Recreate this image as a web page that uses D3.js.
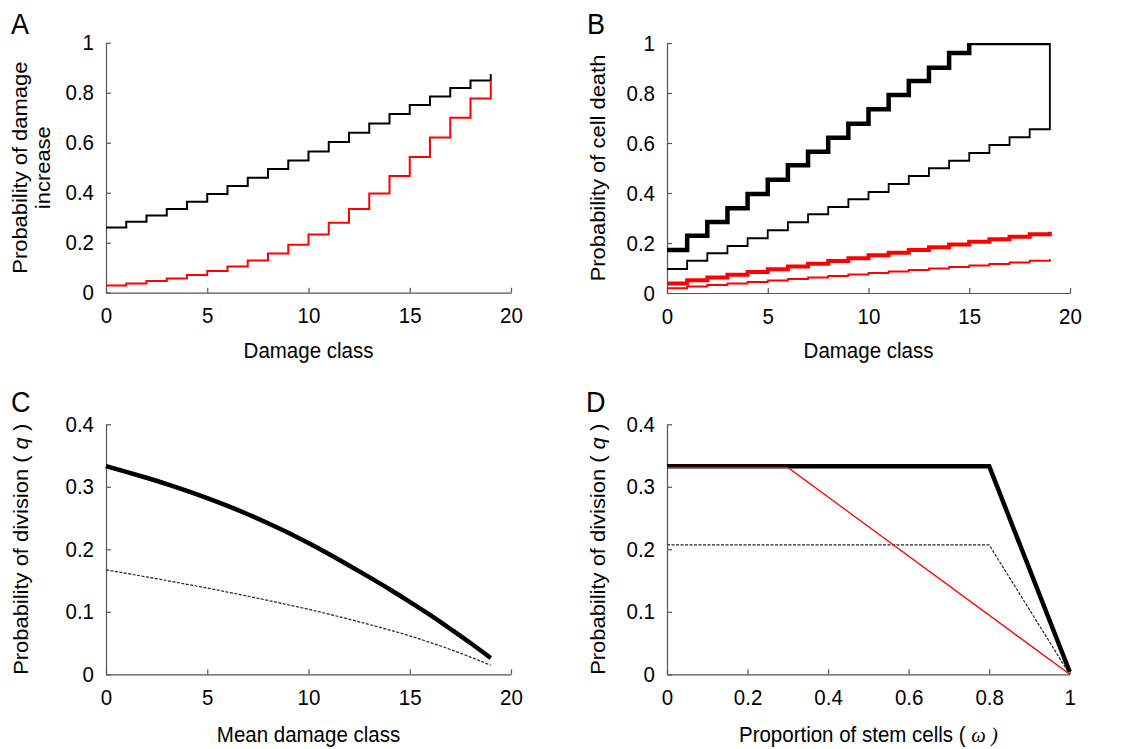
<!DOCTYPE html>
<html>
<head>
<meta charset="utf-8">
<script src="https://cdn.jsdelivr.net/npm/d3@7"></script>
<style>
  body { margin: 0; background: #fff; }
  text { font-family: "Liberation Sans", Arial, sans-serif; }
</style>
</head>
<body>
<svg id="chart" width="1122" height="749"></svg>
<script>
// ---- data ----
const damageClass = d3.range(0, 20); // classes 0..19

// A: probability of damage increase
const aBlack = [0.261, 0.284, 0.309, 0.335, 0.364, 0.395, 0.427, 0.46, 0.495, 0.529,
                0.565, 0.603, 0.64, 0.677, 0.715, 0.751, 0.785, 0.819, 0.849, 0.875];
const aRed   = [0.029, 0.037, 0.047, 0.057, 0.071, 0.087, 0.105, 0.129, 0.157, 0.192,
                0.233, 0.28, 0.335, 0.397, 0.467, 0.543, 0.621, 0.7, 0.777, 0.844];

// B: probability of cell death
const bBlackThick = [0.172, 0.229, 0.284, 0.339, 0.396, 0.453, 0.511, 0.565, 0.621, 0.677,
                     0.735, 0.792, 0.848, 0.901, 0.96, 1, 1, 1, 1, 1];
const bBlackThin  = [0.096, 0.129, 0.159, 0.188, 0.219, 0.251, 0.283, 0.315, 0.344, 0.375,
                     0.404, 0.436, 0.468, 0.499, 0.529, 0.56, 0.592, 0.623, 0.655, 1];
const bRedThick   = [0.038, 0.051, 0.062, 0.073, 0.084, 0.095, 0.106, 0.117, 0.128, 0.139,
                     0.151, 0.161, 0.172, 0.183, 0.194, 0.205, 0.215, 0.225, 0.235, 0.245];
const bRedThin    = [0.019, 0.026, 0.032, 0.038, 0.044, 0.05, 0.056, 0.062, 0.068, 0.074,
                     0.08, 0.086, 0.092, 0.098, 0.104, 0.11, 0.116, 0.122, 0.129, 0.136];

// C: probability of division vs mean damage class
const cThick  = [0.333, 0.324, 0.3145, 0.3044, 0.2936, 0.282, 0.2695, 0.2561, 0.2418, 0.2266,
                 0.21, 0.1925, 0.1742, 0.1554, 0.1361, 0.116, 0.095, 0.0728, 0.05, 0.026];
const cDotted = [0.167, 0.1615, 0.1558, 0.15, 0.144, 0.138, 0.1316, 0.125, 0.1182, 0.1112,
                 0.104, 0.0963, 0.0882, 0.0797, 0.0708, 0.0615, 0.051, 0.0397, 0.0275, 0.0145];

// D: probability of division vs proportion of stem cells
const dOmegaThick = [0, 0.8, 1];
const dThick      = [0.333, 0.333, 0.004];
const dOmegaRed   = [0, 0.3, 1];
const dRed        = [0.331, 0.331, 0];
const dOmegaDot   = [0, 0.8, 1];
const dDotted     = [0.207, 0.207, 0];

// ticks
const ticksDamage = [0, 5, 10, 15, 20];
const ticksProb   = [0, 0.2, 0.4, 0.6, 0.8, 1];
const ticksQ      = [0, 0.1, 0.2, 0.3, 0.4];
const ticksOmega  = [0, 0.2, 0.4, 0.6, 0.8, 1];

const svg = d3.select("#chart");
const axisColor = "#555";
const fs = 20.5;
const sy = 1.07; // text in the figure is slightly taller than wide

function makePanel(p) {
  const x = d3.scaleLinear().domain(p.xDom).range([p.left, p.right]);
  const y = d3.scaleLinear().domain(p.yDom).range([p.bottom, p.top]);
  const g = svg.append("g");

  const xa = g.append("g")
    .attr("transform", "translate(0," + p.bottom + ")")
    .call(d3.axisBottom(x).tickValues(p.xTicks).tickFormat(d => String(d))
      .tickSizeInner(-5).tickSizeOuter(0).tickPadding(14));
  const ya = g.append("g")
    .attr("transform", "translate(" + p.left + ",0)")
    .call(d3.axisLeft(y).tickValues(p.yTicks).tickFormat(d => String(d))
      .tickSizeInner(-5).tickSizeOuter(0).tickPadding(12));
  [xa, ya].forEach(a => {
    a.select(".domain").attr("stroke", axisColor).attr("stroke-width", 1.2);
    a.selectAll(".tick line").attr("stroke", axisColor).attr("stroke-width", 1.2);
    a.selectAll(".tick text").attr("fill", "#000")
      .attr("transform", "scale(1," + sy + ")")
      .style("font-size", fs + "px")
      .style("font-family", '"Liberation Sans", Arial, sans-serif');
  });

  // panel letter
  g.append("text")
    .attr("transform", "translate(" + p.letterX + "," + p.letterY + ") scale(1," + sy + ")")
    .style("font-size", "27px").text(p.letter);

  // x title
  const xt = g.append("text")
    .attr("transform", "translate(" + (p.left + p.right) / 2 + "," + p.xTitleY + ") scale(1," + sy + ")")
    .attr("text-anchor", "middle").style("font-size", fs + "px");
  p.xTitle(xt);

  // y title (one or more lines)
  p.yTitle.forEach(line => {
    const t = g.append("text")
      .attr("transform", "translate(" + line.x + "," + (p.top + p.bottom) / 2 + ") scale(1," + sy + ") rotate(-90)")
      .attr("text-anchor", "middle").style("font-size", fs + "px");
    line.build(t);
  });

  return { g, x, y };
}

function plainText(s) { return t => t.text(s); }

function addLine(panel, xs, ys, opt) {
  const line = d3.line()
    .x(d => panel.x(d[0]))
    .y(d => panel.y(d[1]))
    .curve(opt.curve || d3.curveLinear);
  const path = panel.g.append("path")
    .datum(xs.map((v, i) => [v, ys[i]]))
    .attr("d", line)
    .attr("fill", "none")
    .attr("stroke", opt.color)
    .attr("stroke-width", opt.width)
    .attr("stroke-linejoin", "miter")
    .attr("stroke-linecap", "butt");
  if (opt.dash) path.attr("stroke-dasharray", opt.dash);
  if (opt.clip) path.attr("clip-path", "url(#" + opt.clip + ")");
  return path;
}

// ---- Panel A ----
const pA = makePanel({
  left: 106, right: 511, top: 42.7, bottom: 292.7,
  xDom: [0, 20], yDom: [0, 1], xTicks: ticksDamage, yTicks: ticksProb,
  letter: "A", letterX: 11, letterY: 33.5,
  xTitleY: 358, xTitle: plainText("Damage class"),
  yTitle: [{ x: 27, build: plainText("Probability of damage") },
           { x: 50, build: plainText("increase") }]
});
addLine(pA, damageClass, aBlack, { color: "#000", width: 2, curve: d3.curveStepAfter });
addLine(pA, damageClass, aRed, { color: "#ff0000", width: 2, curve: d3.curveStepAfter });

// ---- Panel B ----
const pB = makePanel({
  left: 667, right: 1070, top: 43, bottom: 293,
  xDom: [0, 20], yDom: [0, 1], xTicks: ticksDamage, yTicks: ticksProb,
  letter: "B", letterX: 587, letterY: 33.5,
  xTitleY: 358, xTitle: plainText("Damage class"),
  yTitle: [{ x: 605, build: plainText("Probability of cell death") }]
});
svg.append("clipPath").attr("id", "clipB").append("rect")
  .attr("x", 667).attr("y", 43).attr("width", 420).attr("height", 260);
addLine(pB, damageClass, bBlackThick, { color: "#000", width: 4.5, curve: d3.curveStepAfter, clip: "clipB" });
addLine(pB, damageClass, bBlackThin, { color: "#000", width: 1.8, curve: d3.curveStepAfter });
addLine(pB, damageClass, bRedThick, { color: "#ff0000", width: 4, curve: d3.curveStepAfter });
addLine(pB, damageClass, bRedThin, { color: "#ff0000", width: 1.8, curve: d3.curveStepAfter });

// ---- Panel C ----
const qTitle = t => {
  t.append("tspan").text("Probability of division ( ");
  t.append("tspan").style("font-style", "italic").text("q");
  t.append("tspan").text(" )");
};
const pC = makePanel({
  left: 106, right: 511, top: 424.3, bottom: 674.3,
  xDom: [0, 20], yDom: [0, 0.4], xTicks: ticksDamage, yTicks: ticksQ,
  letter: "C", letterX: 11, letterY: 412,
  xTitleY: 742, xTitle: plainText("Mean damage class"),
  yTitle: [{ x: 27.5, build: qTitle }]
});
addLine(pC, damageClass, cThick, { color: "#000", width: 4.5, curve: d3.curveMonotoneX });
addLine(pC, damageClass, cDotted, { color: "#222", width: 1.2, curve: d3.curveMonotoneX, dash: "3,1.5" });

// ---- Panel D ----
const pD = makePanel({
  left: 667, right: 1069.7, top: 424.3, bottom: 674.3,
  xDom: [0, 1], yDom: [0, 0.4], xTicks: ticksOmega, yTicks: ticksQ,
  letter: "D", letterX: 586, letterY: 412,
  xTitleY: 742,
  xTitle: t => {
    t.append("tspan").text("Proportion of stem cells ( ");
    t.append("tspan").style("font-style", "italic")
      .style("font-family", '"Liberation Serif", "Times New Roman", serif').text("ω )");
  },
  yTitle: [{ x: 605, build: qTitle }]
});
addLine(pD, dOmegaThick, dThick, { color: "#000", width: 4.5 });
addLine(pD, dOmegaDot, dDotted, { color: "#222", width: 1.2, dash: "3,1.5" });
addLine(pD, dOmegaRed, dRed, { color: "#ff0000", width: 1.3 });
</script>
</body>
</html>
